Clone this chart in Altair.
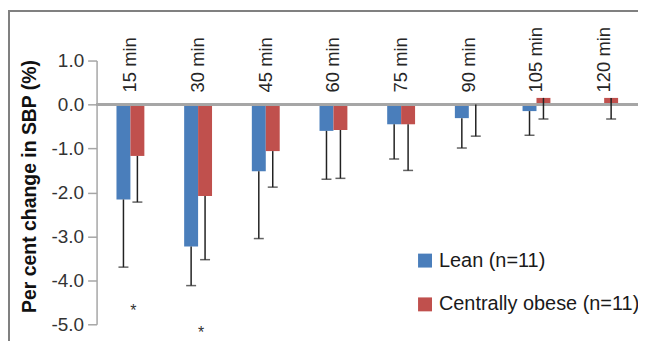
import altair as alt
import pandas as pd

categories = ["15 min", "30 min", "45 min", "60 min", "75 min", "90 min", "105 min", "120 min"]
groups = ["Lean (n=11)", "Centrally obese (n=11)"]
lean_mean = [-2.16, -3.23, -1.52, -0.60, -0.45, -0.31, -0.15, 0.0]
lean_low = [-3.70, -4.12, -3.05, -1.70, -1.24, -0.99, -0.70, None]
obese_mean = [-1.17, -2.08, -1.06, -0.58, -0.45, 0.0, 0.15, 0.15]
obese_low = [-2.22, -3.53, -1.88, -1.68, -1.50, -0.72, -0.33, -0.33]
sig_categories = ["15 min", "30 min"]
sig_y = [-4.82, -5.32]
y_ticks = [-5, -4, -3, -2, -1, 0, 1]

colors = ["#4a7ebb", "#c0504d"]
FONT = "Liberation Sans"

rows = []
for g, means, lows in [(groups[0], lean_mean, lean_low), (groups[1], obese_mean, obese_low)]:
    for c, m, lo in zip(categories, means, lows):
        rows.append({"category": c, "group": g, "value": m, "low": lo})
df = pd.DataFrame(rows)
err_df = df.dropna(subset=["low"])
cat_df = pd.DataFrame({"category": categories})
sig_df = pd.DataFrame({"category": sig_categories, "y": sig_y})

x_enc = alt.X("category:N", sort=categories,
              scale=alt.Scale(paddingInner=0.588, paddingOuter=0.294), axis=None)
xo_enc = alt.XOffset("group:N", sort=groups, scale=alt.Scale(paddingInner=0, paddingOuter=0))
y_scale = alt.Scale(domain=[-5, 1], nice=False, zero=False)

bars = alt.Chart(df).mark_bar().encode(
    x=x_enc,
    xOffset=xo_enc,
    y=alt.Y("value:Q", scale=y_scale,
            axis=alt.Axis(values=y_ticks,
                          labelExpr="(datum.value < 0 ? '-' : '') + format(abs(datum.value), '.1f')",
                          title="Per cent change in SBP (%)", grid=False,
                          domainColor="#a6a6a6", domainWidth=1.5,
                          tickColor="#a6a6a6", tickSize=9, tickWidth=1.5,
                          labelFontSize=19, labelFont=FONT, labelColor="#333333", labelPadding=4,
                          titleFontSize=19.5, titleFont=FONT, titleFontWeight="bold", titleColor="#111111",
                          titleX=-67, titleY=126, titleAngle=270,
                          titleAlign="center", titleBaseline="middle")),
    y2=alt.datum(0),
    color=alt.Color("group:N", sort=groups,
                    scale=alt.Scale(domain=groups, range=colors),
                    legend=alt.Legend(title=None, orient="none", legendX=320, legendY=191,
                                      symbolType="square", symbolSize=196, symbolStrokeWidth=0,
                                      symbolOpacity=1, labelFontSize=20, labelFont=FONT,
                                      labelColor="#1a1a1a", labelOffset=4, rowPadding=24,
                                      padding=0, labelLimit=400)),
)

zero = alt.Chart(cat_df).mark_rule(color="#a6a6a6", strokeWidth=2).encode(
    y=alt.datum(0), x=alt.value(0), x2=alt.value(544)
)

err = alt.Chart(err_df).mark_rule(color="#222222", strokeWidth=1.5).encode(
    x=x_enc, xOffset=xo_enc, y="value:Q", y2="low:Q"
)
caps = alt.Chart(err_df).mark_tick(color="#222222", size=10, thickness=1.5).encode(
    x=x_enc, xOffset=xo_enc, y="low:Q"
)

labels = alt.Chart(cat_df).mark_text(angle=270, align="left", baseline="middle",
                                     fontSize=18.5, font=FONT, color="#262626").encode(
    x=x_enc, y=alt.value(32), text="category:N"
)

sig = alt.Chart(sig_df).mark_text(text="*", fontSize=16, font=FONT, color="#333333",
                                  baseline="alphabetic", dx=3).encode(
    x=x_enc, y="y:Q"
)

frame_top = alt.Chart(cat_df).mark_rule(color="#808080", strokeWidth=1.5).encode(
    x=alt.value(-89), x2=alt.value(600), y=alt.value(-50)
)
frame_left = alt.Chart(cat_df).mark_rule(color="#808080", strokeWidth=1.5).encode(
    x=alt.value(-88), y=alt.value(-50), y2=alt.value(300)
)

chart = alt.layer(bars, zero, err, caps, labels, sig, frame_top, frame_left).properties(
    width=544, height=265,
    autosize=alt.AutoSizeParams(type="none"),
    padding={"left": 89, "top": 52, "right": 0, "bottom": 16},
    background="white",
).configure_view(stroke=None)

chart.save("out.html", embed_options={"renderer": "svg", "actions": False})
